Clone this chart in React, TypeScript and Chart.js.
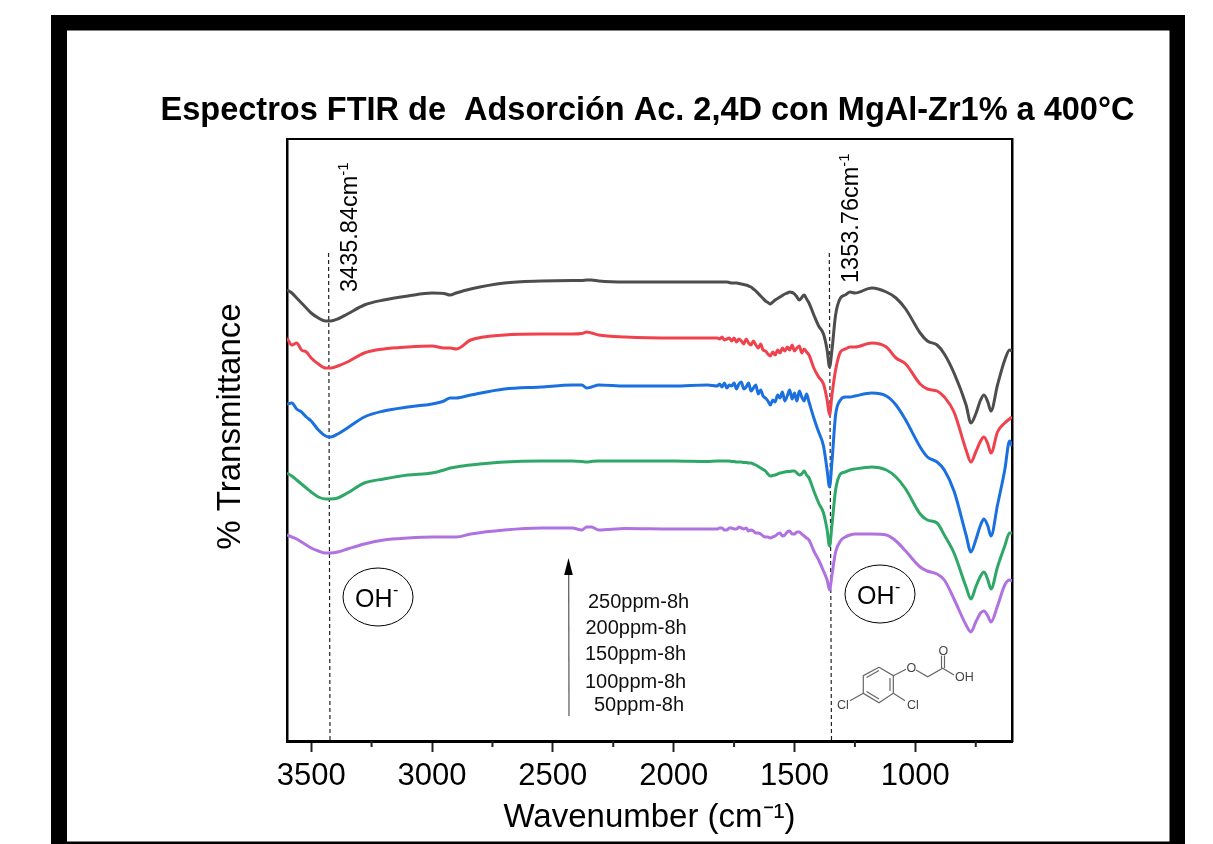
import React, { useEffect, useRef } from "react";
import { Chart, registerables } from "chart.js";

Chart.register(...registerables);

const FONT = '"Liberation Sans", Arial, sans-serif';

const chartTitle = "Espectros FTIR de  Adsorción Ac. 2,4D con MgAl-Zr1% a 400°C";
const xAxisTitle = "Wavenumber (cm⁻¹)";
const yAxisTitle = "% Transmittance";

const wavenumbers = [
  3600, 3580, 3560, 3540, 3520, 3500, 3470, 3440, 3420, 3390, 3350, 3280, 3200, 3100,
  3000, 2950, 2925, 2900, 2840, 2700, 2550, 2420, 2380, 2360,
  2340, 2310, 2200, 2000, 1860,
  1820, 1810, 1800, 1790, 1780, 1770, 1760, 1750, 1740, 1730, 1720, 1710, 1700, 1690, 1680, 1670, 1660, 1650, 1640, 1630, 1620, 1610, 1600,
  1590, 1580, 1570, 1560, 1550, 1540, 1530, 1520, 1510, 1500, 1490, 1480, 1470, 1460, 1450, 1440, 1420, 1400,
  1380, 1365, 1355, 1345, 1330, 1310, 1290, 1270, 1250, 1180,
  1120, 1080, 1040, 980, 950, 910, 880, 840, 790, 770,
  750, 730, 716, 700, 687, 660, 630, 610, 600,
];

const ppm250 = [
  451, 448, 443, 438, 433, 428, 423, 420, 420, 422, 427, 436, 441, 445,
  448, 447.5, 446, 448, 452, 458, 460, 460.5, 460.5, 461,
  461, 460, 459, 459, 459,
  459, 459, 459, 459, 459, 458.5, 458, 458, 458, 457.5, 457, 456.5, 456, 455, 454, 452, 450, 447.5, 445, 442.5, 440, 438.5, 437,
  439, 441, 442.5, 444, 445.5, 447, 448, 449, 448.5, 447, 444, 441, 443.5, 446, 442, 438, 426, 415,
  407, 391, 374, 391, 426, 443, 446, 449, 448, 453,
  449, 443, 432, 408, 400, 396, 387, 368, 336, 318,
  327, 341, 346, 339, 330, 356, 381, 391, 390,
];
const ppm200 = [
  403, 396, 398, 391, 389, 383, 377, 373, 373, 375, 379, 388, 392, 394,
  395, 393, 393, 392, 401, 406, 407, 407, 407.5, 409,
  408, 406, 404, 403, 403,
  403, 402, 404, 401, 402, 403, 400, 403, 399, 402, 400, 397, 402, 398, 396, 400, 396, 393, 397, 391, 390, 387, 385,
  389, 386, 391, 388, 393, 390, 394, 391, 396, 390, 393, 395, 388, 392, 389, 386, 373, 364,
  357, 341, 326, 346, 371, 389, 392, 394, 394, 398,
  394, 383, 377, 357, 352, 350, 344, 329, 291, 279,
  289, 300, 304, 297, 288, 309, 318, 322, 324,
];
const ppm150 = [
  337, 338, 332, 329, 324, 320, 311, 305, 304, 307, 313, 324, 330, 334,
  337, 340, 343, 343, 346, 352, 354, 356, 356, 353,
  354, 356, 355, 355, 356,
  355, 357, 354, 358, 353, 356, 355, 358, 352, 357, 359, 352, 354, 358, 350, 353, 356, 347, 351, 345, 343, 340, 336,
  341, 339, 346, 343, 349, 340, 345, 351, 342, 348, 340, 350, 344, 340, 347, 339, 323, 309,
  295, 271, 254, 279, 326, 341, 344, 344, 345, 348,
  345, 336, 321, 294, 284, 279, 271, 250, 206, 189,
  201, 216, 222, 215, 205, 236, 271, 300, 295,
];
const ppm100 = [
  268, 265, 261, 257, 253, 249, 244, 242, 242, 243, 248, 258, 262, 266,
  268, 271, 273, 274, 276, 279, 280, 280, 279.5, 279,
  279.5, 280, 280, 280, 279.5,
  280, 280, 280, 280, 280, 280, 279.5, 279.5, 279, 279, 279, 278.5, 278.5, 278, 278, 277, 276, 274.5, 273, 271.5, 270, 267, 265,
  265.5, 266, 267, 268, 268.5, 269, 269.5, 269.5, 270, 270, 268, 266, 267, 270, 266, 263, 250, 238,
  228, 211, 195, 216, 251, 267, 269, 271, 272, 274,
  271, 264, 252, 227, 221, 218, 206, 188, 154, 142,
  154, 165, 169, 161, 152, 174, 195, 208, 208,
];
const ppm50 = [
  206, 204, 202, 199, 196, 193, 190, 188, 188, 189, 192, 197, 201, 203,
  204, 204, 204, 204, 207, 211, 213, 213, 211, 214,
  214, 211, 212.5, 212, 212,
  212, 213, 213, 211, 211, 213, 213, 212, 212, 214, 213, 212, 213, 210, 211, 210, 208, 208, 207, 205, 204, 204, 203,
  204, 205, 207, 208, 205, 206, 209, 210, 207, 207, 209, 209, 207, 205, 203, 201, 190, 181,
  170, 161, 151, 166, 189, 200, 204, 206, 207, 207,
  206, 200, 190, 174, 170, 167, 161, 142, 116, 109,
  119, 128, 130, 125, 119, 135, 156, 161, 160,
];

const seriesNames = ["250ppm-8h", "200ppm-8h", "150ppm-8h", "100ppm-8h", "50ppm-8h"];
const seriesValues = [ppm250, ppm200, ppm150, ppm100, ppm50];
const seriesColors = ["#4d4d4d", "#f0424c", "#1b70e0", "#2fa766", "#b072e0"];

const majorTicks = [3500, 3000, 2500, 2000, 1500, 1000];
const minorTicks = [750, 1250, 1750, 2250, 2750, 3250];

const peakLeftX = [3428, 3422];
const peakRightX = [1356, 1347];
const peakLineY = [488, 0];

const FrameAndNotes = {
  id: "frameAndNotes",
  afterDraw(chart: any) {
    const { ctx, scales } = chart;
    const xs = scales.x;
    const area = chart.chartArea;
    ctx.save();

    // outer black frame, one even-odd path so that the corners stay clean
    ctx.fillStyle = "#000";
    ctx.beginPath();
    ctx.rect(51, 15, 1134, 829);
    ctx.rect(67, 30.5, 1102.5, 811);
    ctx.fill("evenodd");

    // y axis title
    ctx.save();
    ctx.translate(231, 426.5);
    ctx.rotate(-Math.PI / 2);
    ctx.fillStyle = "#000";
    ctx.font = `33px ${FONT}`;
    ctx.textAlign = "center";
    ctx.textBaseline = "middle";
    ctx.fillText(yAxisTitle, 0, 0);
    ctx.restore();

    // minor ticks
    ctx.strokeStyle = "#222";
    ctx.lineWidth = 2;
    minorTicks.forEach((v) => {
      const px = xs.getPixelForValue(v);
      ctx.beginPath();
      ctx.moveTo(px, area.bottom);
      ctx.lineTo(px, area.bottom + 6);
      ctx.stroke();
    });

    // rotated peak labels
    const rotated = (text: string, x: number, y: number) => {
      ctx.save();
      ctx.translate(x, y);
      ctx.rotate(-Math.PI / 2);
      ctx.fillStyle = "#000";
      ctx.textAlign = "left";
      ctx.textBaseline = "alphabetic";
      ctx.font = `23.5px ${FONT}`;
      ctx.fillText(text, 0, 0);
      const w = ctx.measureText(text).width;
      ctx.font = `15px ${FONT}`;
      ctx.fillText("-1", w, -9);
      ctx.restore();
    };
    rotated("3435.84cm", 357, 292);
    rotated("1353.76cm", 858, 283);

    // OH ellipses
    const oh = (cx: number, cy: number) => {
      ctx.strokeStyle = "#000";
      ctx.lineWidth = 1;
      ctx.beginPath();
      ctx.ellipse(cx, cy, 35, 29, 0, 0, Math.PI * 2);
      ctx.stroke();
      ctx.fillStyle = "#000";
      ctx.textAlign = "left";
      ctx.textBaseline = "alphabetic";
      ctx.font = `25px ${FONT}`;
      ctx.fillText("OH", cx - 23, cy + 10);
      ctx.font = `16px ${FONT}`;
      ctx.fillText("-", cx + 15, cy - 2);
    };
    oh(378, 597);
    oh(880, 594);

    // concentration arrow
    ctx.strokeStyle = "#555";
    ctx.lineWidth = 1.2;
    ctx.beginPath();
    ctx.moveTo(569, 716);
    ctx.lineTo(568.7, 574);
    ctx.stroke();
    ctx.fillStyle = "#000";
    ctx.beginPath();
    ctx.moveTo(568.5, 558);
    ctx.lineTo(572.8, 575);
    ctx.lineTo(564.2, 575);
    ctx.closePath();
    ctx.fill();

    // concentration labels
    ctx.font = `20px ${FONT}`;
    ctx.fillStyle = "#111";
    ctx.textAlign = "left";
    const labelPos = [
      [588, 608],
      [585.5, 634],
      [585, 660],
      [585, 688],
      [594, 711],
    ];
    seriesNames.forEach((n, i) => ctx.fillText(n, labelPos[i][0], labelPos[i][1]));

    // 2,4-D structure
    ctx.strokeStyle = "#666";
    ctx.lineWidth = 1.2;
    const poly = (pts: number[][]) => {
      ctx.beginPath();
      pts.forEach((p, i) => (i ? ctx.lineTo(p[0], p[1]) : ctx.moveTo(p[0], p[1])));
      ctx.stroke();
    };
    poly([[879, 667.3], [893.3, 675.7], [893.3, 693.3], [879, 702.7], [863.3, 693.3], [863.3, 675.7], [879, 667.3]]);
    poly([[866.5, 677.5], [879, 670.5]]);
    poly([[866.5, 691.5], [879, 699]]);
    poly([[890, 678], [890, 691]]);
    poly([[863.3, 693.3], [850, 700.7]]);
    poly([[893.3, 693.3], [905, 700.7]]);
    poly([[893.3, 675.7], [906, 669.3]]);
    poly([[916, 670], [927.7, 676.7], [942.7, 668.3], [954, 675]]);
    poly([[941.5, 668], [941.5, 655.5]]);
    poly([[944.5, 668], [944.5, 655.5]]);
    ctx.fillStyle = "#444";
    ctx.font = `12.5px ${FONT}`;
    ctx.fillText("Cl", 837, 709);
    ctx.fillText("Cl", 907, 709);
    ctx.fillText("O", 906.5, 672);
    ctx.fillText("O", 938.5, 654.5);
    ctx.fillText("OH", 955, 681);

    ctx.restore();
  },
};

export default function App() {
  const ref = useRef<HTMLCanvasElement>(null);
  useEffect(() => {
    document.body.style.margin = "0";
    document.body.style.background = "#fff";
    const dashed = (label: string, xs: number[]) => ({
      label,
      data: xs.map((x, i) => ({ x, y: peakLineY[i] })),
      borderColor: "#222",
      borderWidth: 1.2,
      borderDash: [4, 3],
      pointRadius: 0,
      order: 10,
    });
    const chart = new Chart(ref.current!, {
      type: "line",
      data: {
        datasets: [
          ...seriesNames.map((label, s) => ({
            label,
            data: wavenumbers.map((x, i) => ({ x, y: seriesValues[s][i] })),
            borderColor: seriesColors[s],
            borderWidth: 3,
            pointRadius: 0,
            cubicInterpolationMode: "monotone",
            order: s + 1,
          })),
          dashed("3435.84", peakLeftX),
          dashed("1353.76", peakRightX),
        ],
      },
      options: {
        responsive: false,
        animation: false,
        parsing: false,
        layout: { padding: { left: 82, right: 0, top: 0, bottom: 0 } },
        plugins: {
          legend: { display: false },
          tooltip: { enabled: false },
          title: {
            display: true,
            text: chartTitle,
            color: "#000",
            font: { family: FONT, size: 32.5, weight: "bold" },
            padding: { top: 92, bottom: 8 },
            align: "center",
            position: "top",
          },
        },
        scales: {
          x: {
            type: "linear",
            reverse: true,
            min: 600,
            max: 3600,
            border: { color: "#000", width: 3 },
            grid: { display: true, drawOnChartArea: false, drawTicks: true, tickLength: 11, tickColor: "#222", tickWidth: 2 },
            afterBuildTicks: (s: any) => {
              s.ticks = majorTicks.map((value) => ({ value }));
            },
            ticks: {
              autoSkip: false,
              color: "#000",
              maxRotation: 0,
              padding: 6,
              font: { family: FONT, size: 31 },
              callback: (v: any) => String(v),
            },
            title: { display: true, text: xAxisTitle, color: "#000", font: { family: FONT, size: 33 }, padding: { top: 0, bottom: 6.5 } },
            afterFit: (s: any) => {
              s.height = 103;
            },
          },
          y: {
            min: 0,
            max: 602,
            border: { color: "#000", width: 2.5 },
            grid: { display: false },
            ticks: { display: false },
            afterFit: (s: any) => {
              s.width = 205;
            },
          },
          top: {
            position: "top",
            type: "linear",
            display: true,
            min: 600,
            max: 3600,
            reverse: true,
            border: { color: "#000", width: 2 },
            grid: { display: false, drawTicks: false },
            ticks: { display: false },
            afterFit: (s: any) => {
              s.height = 0;
            },
          },
          right: {
            position: "right",
            type: "linear",
            display: true,
            min: 0,
            max: 602,
            border: { color: "#000", width: 2.5 },
            grid: { display: false, drawTicks: false },
            ticks: { display: false },
            afterFit: (s: any) => {
              s.width = 201;
            },
          },
        },
      } as any,
      plugins: [FrameAndNotes],
    });
    return () => chart.destroy();
  }, []);
  return <canvas ref={ref} width={1213} height={844} style={{ display: "block" }} />;
}
